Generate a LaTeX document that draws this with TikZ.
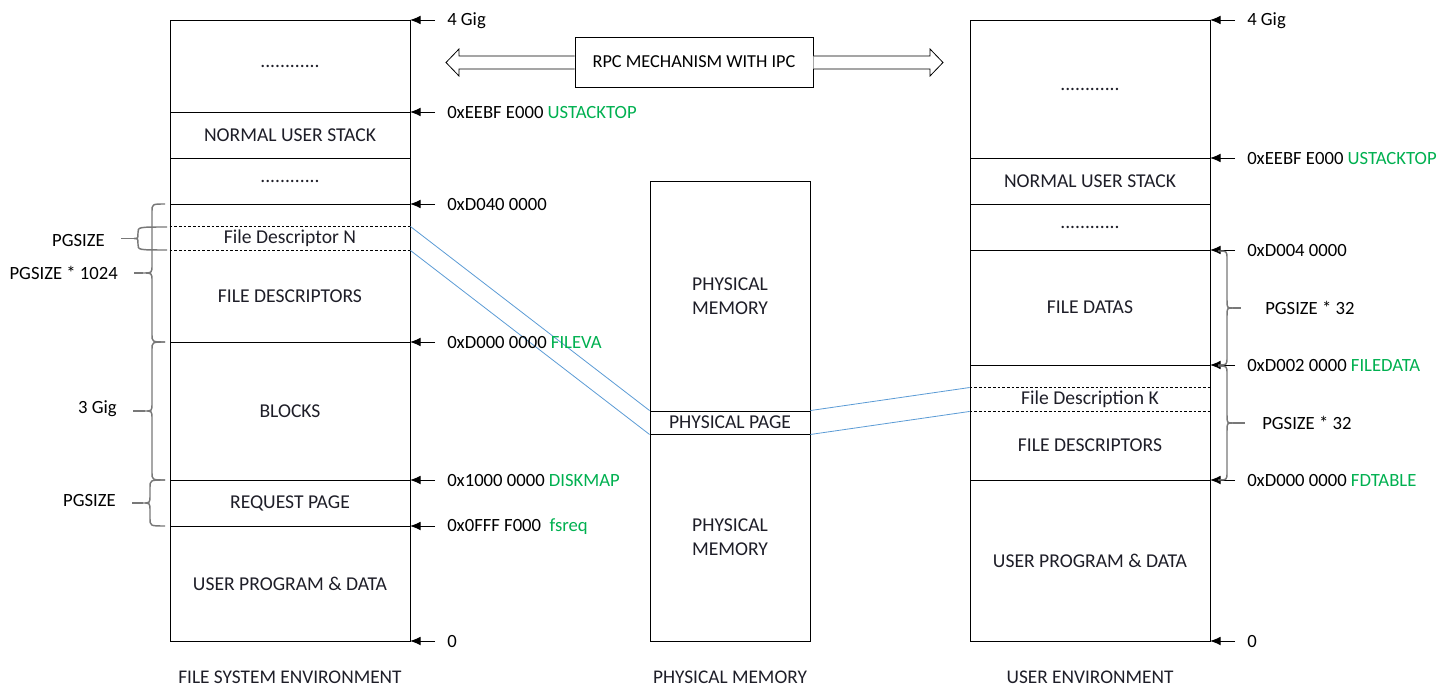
\documentclass[tikz,border=0pt]{standalone}
\usepackage{fontspec}
\setmainfont{Carlito}
\usetikzlibrary{arrows.meta,calc}
\definecolor{grn}{RGB}{0,176,80}
\definecolor{lnk}{RGB}{91,155,213}
\definecolor{brc}{RGB}{120,120,120}
\definecolor{txt}{RGB}{30,30,40}
\newcommand\annot[4]{%
  \coordinate (e#1) at (#2,#3);
  \node[annt, anchor=west] (t#1) at (#2+37,#3+1) {#4};
  \draw[arr] ([xshift=-9pt]t#1.west |- e#1) -- (e#1);}
% brace: name, top y, bottom y, end x, spine x, tip x
\newcommand\mybrace[6]{%
  \pgfmathsetmacro\ym{(#2+#3)/2}
  \pgfmathsetmacro\rr{min(8,(#3-#2)/4)}
  \coordinate (#1) at (#6,\ym);
  \draw[bstyle] (#4,#2) .. controls (#5,#2) .. (#5,#2+\rr) -- (#5,\ym-\rr)
     .. controls (#5,\ym) .. (#1) .. controls (#5,\ym) .. (#5,\ym+\rr)
     -- (#5,#3-\rr) .. controls (#5,#3) .. (#4,#3);}
\begin{document}
\begin{tikzpicture}[x=0.75pt,y=-0.75pt,
  seg/.style={draw, line width=0.7pt, minimum width=180pt, inner sep=0pt, align=center, text=txt, font=\fontsize{14.7}{18}\selectfont},
  mseg/.style={seg, minimum width=120pt},
  sub/.style={seg, draw=none},
  annt/.style={inner sep=0pt, font=\fontsize{14}{16}\selectfont},
  lbl/.style={inner sep=0pt, font=\fontsize{14}{16}\selectfont},
  ttl/.style={inner sep=0pt, text=txt, font=\fontsize{14.5}{17}\selectfont},
  arr/.style={line width=0.7pt, -{Latex[length=8pt,width=6.5pt]}},
  link/.style={draw=lnk, line width=0.6pt},
  dline/.style={line width=0.6pt, dash pattern=on 2pt off 1.5pt},
  bstyle/.style={draw=brc, line width=1.1pt},
  bline/.style={draw=brc, line width=1.1pt},
  fat/.style={draw, line width=0.6pt, fill=white}]
\useasboundingbox (0,0) rectangle (1446,698);

% ---------- left column ----------
\node[seg, minimum height=69pt] (L1) at (290,66) {............};
\node[seg, minimum height=34.5pt] (L2) at (290,135) {NORMAL USER STACK};
\node[seg, minimum height=34.5pt] (L3) at (290,181) {............};
\node[seg, minimum height=103.5pt] (L4) at (290,273) {};
\node[sub, minimum height=17.25pt] (Lfdn) at (290,238.5) {File Descriptor N};
\node[sub, minimum height=69pt] (Lfds) at (290,296) {FILE DESCRIPTORS};
\node[seg, minimum height=103.5pt] (L5) at (290,411) {BLOCKS};
\node[seg, minimum height=34.5pt] (L6) at (290,503) {REQUEST PAGE};
\node[seg, minimum height=86.25pt] (L7) at (290,583.5) {USER PROGRAM \& DATA};
\draw[dline] (Lfdn.north west) -- (Lfdn.north east);
\draw[dline] (Lfdn.south west) -- (Lfdn.south east);

% ---------- middle column ----------
\node[mseg, minimum height=172.5pt] (M1) at (730,296) {PHYSICAL\\MEMORY};
\node[mseg, minimum height=17.25pt] (M2) at (730,422.5) {PHYSICAL PAGE};
\node[mseg, minimum height=155.25pt] (M3) at (730,537.5) {PHYSICAL\\MEMORY};

% ---------- right column ----------
\node[seg, minimum height=103.5pt] (R1) at (1090,89) {............};
\node[seg, minimum height=34.5pt] (R2) at (1090,181) {NORMAL USER STACK};
\node[seg, minimum height=34.5pt] (R3) at (1090,227) {............};
\node[seg, minimum height=86.25pt] (R4) at (1090,307.5) {FILE DATAS};
\node[seg, minimum height=86.25pt] (R5) at (1090,422.5) {};
\node[sub, minimum height=17.25pt] (Rfdk) at (1090,399.5) {File Description K};
\node[sub, minimum height=51.75pt] (Rfds) at (1090,445.5) {FILE DESCRIPTORS};
\node[seg, minimum height=120.75pt] (R6) at (1090,560.5) {USER PROGRAM \& DATA};
\draw[dline] (Rfdk.north west) -- (Rfdk.north east);
\draw[dline] (Rfdk.south west) -- (Rfdk.south east);

% ---------- links ----------
\draw[link] (Lfdn.north east) -- (M2.north west);
\draw[link] (Lfdn.south east) -- (M2.south west);
\draw[link] (M2.north east) -- (Rfdk.north west);
\draw[link] (M2.south east) -- (Rfdk.south west);

% ---------- annotations left ----------
\annot{a1}{410}{20}{4 Gig}
\annot{a2}{410}{112}{0xEEBF E000 \textcolor{grn}{USTACKTOP}}
\annot{a3}{410}{204}{0xD040 0000}
\annot{a4}{410}{342}{0xD000 0000 \textcolor{grn}{FILEVA}}
\annot{a5}{410}{480}{0x1000 0000 \textcolor{grn}{DISKMAP}}
\annot{a6}{410}{526}{0x0FFF F000\ \ \textcolor{grn}{fsreq}}
\annot{a7}{410}{641}{0}
% ---------- annotations right ----------
\annot{b1}{1210}{20}{4 Gig}
\annot{b2}{1210}{158}{0xEEBF E000 \textcolor{grn}{USTACKTOP}}
\annot{b3}{1210}{250}{0xD004 0000}
\annot{b4}{1210}{365}{0xD002 0000 \textcolor{grn}{FILEDATA}}
\annot{b5}{1210}{480}{0xD000 0000 \textcolor{grn}{FDTABLE}}
\annot{b6}{1210}{641}{0}

% ---------- braces left ----------
\mybrace{c1}{204}{342}{165}{152}{143}
\mybrace{c2}{227}{250}{167}{138}{134}
\mybrace{c3}{342}{480}{165}{152}{145}
\mybrace{c4}{480}{526}{165}{150}{143}
\node[lbl, anchor=east] (k1) at (118,273) {PGSIZE * 1024};
\node[lbl, anchor=east] (k2) at (105,241) {PGSIZE};
\node[lbl, anchor=east] (k3) at (117,409) {3 Gig};
\node[lbl, anchor=east] (k4) at (116,501) {PGSIZE};
\draw[bline] ([xshift=12pt]k1.east |- c1) -- (c1);
\draw[bline] ([xshift=12pt]k2.east |- c2) -- (c2);
\draw[bline] ([xshift=12pt]k3.east |- c3) -- (c3);
\draw[bline] ([xshift=12pt]k4.east |- c4) -- (c4);

% ---------- braces right ----------
\mybrace{d1}{251}{365}{1218}{1227}{1233}
\mybrace{d2}{366}{480}{1218}{1227}{1233}
\node[lbl, anchor=west] (k5) at (1265,308) {PGSIZE * 32};
\node[lbl, anchor=west] (k6) at (1262,423) {PGSIZE * 32};
\draw[bline] (d1) -- ([xshift=-18pt]k5.west |- d1);
\draw[bline] (d2) -- ([xshift=-13pt]k6.west |- d2);

% ---------- RPC ----------
\node[draw, line width=0.7pt, minimum width=178.5pt, minimum height=37.5pt, inner sep=0pt, font=\fontsize{13.7}{16}\selectfont] (rpc) at (694,62) {RPC MECHANISM WITH IPC};
\draw[fat] (rpc.west |- 0,56) -- (459,56) -- (459,49) -- (446,62.5) -- (459,76) -- (459,69) -- (rpc.west |- 0,69);
\draw[fat] (rpc.east |- 0,56) -- (930,56) -- (930,49) -- (943,62.5) -- (930,76) -- (930,69) -- (rpc.east |- 0,69);

% ---------- titles ----------
\node[ttl] (T1) at (290,677) {FILE SYSTEM ENVIRONMENT};
\node[ttl] (T2) at (730,677) {PHYSICAL MEMORY};
\node[ttl] (T3) at (1090,677) {USER ENVIRONMENT};
\end{tikzpicture}
\end{document}
